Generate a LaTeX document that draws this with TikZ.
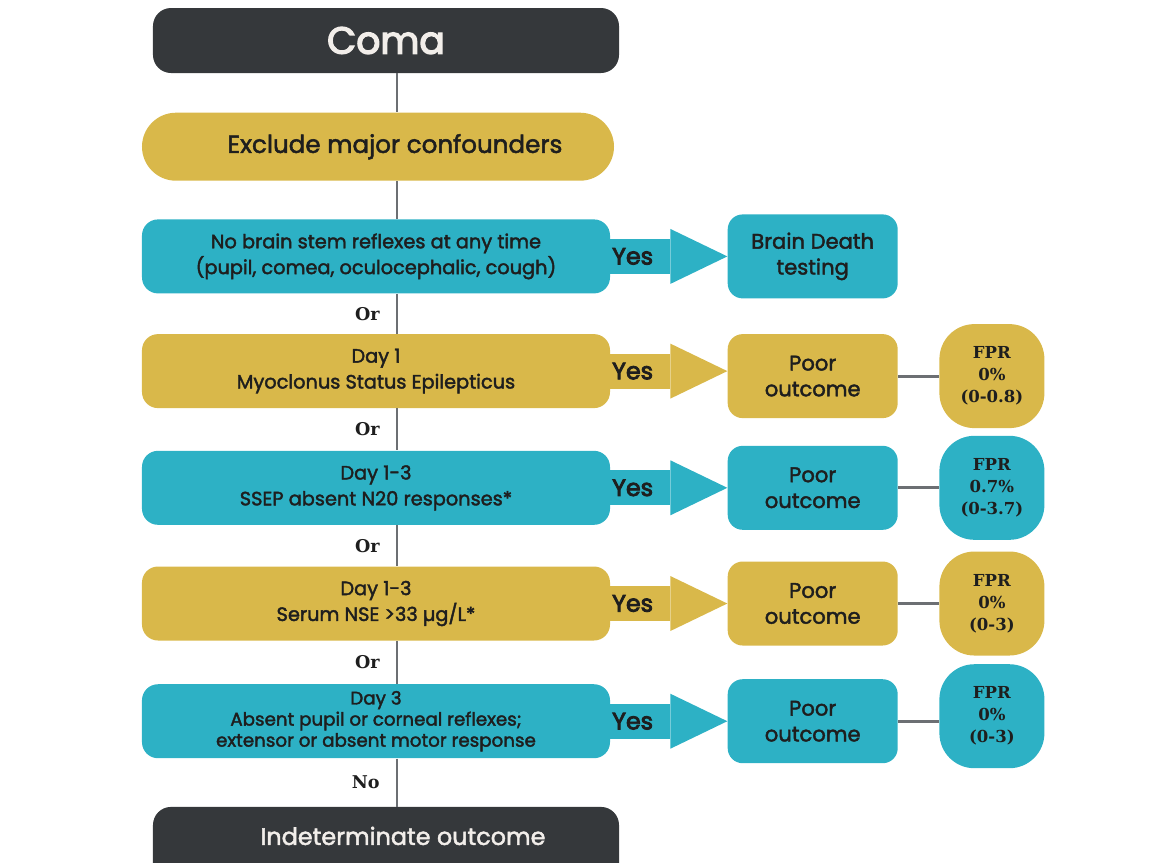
\documentclass[tikz,border=0pt]{standalone}
\usepackage{fontspec}
\setmainfont{Poppins}[FakeBold=2]
\newfontfamily\serifbold{DejaVu Serif}
\newfontfamily\headfont{Poppins}[FakeBold=3.5]
\usetikzlibrary{arrows.meta, positioning}

\definecolor{comadark}{HTML}{35383B}
\definecolor{tealbox}{HTML}{2DB1C5}
\definecolor{goldbox}{HTML}{D9B84A}
\definecolor{spinegray}{HTML}{6C6F73}
\definecolor{boxtext}{HTML}{1E1E1E}
\definecolor{lighttext}{HTML}{F2EEEA}

\begin{document}
\begin{tikzpicture}[
    node distance=0.8cm,
    endbox/.style={rectangle, rounded corners=0.36cm, fill=comadark, text=lighttext, minimum width=9.32cm, minimum height=1.3cm, align=center},
    pill/.style={rectangle, rounded corners=0.68cm, fill=goldbox, text=boxtext, minimum width=9.44cm, minimum height=1.36cm, align=center, font=\fontsize{14}{16}\selectfont},
    stepteal/.style={rectangle, rounded corners=0.32cm, fill=tealbox, text=boxtext, minimum width=9.36cm, minimum height=1.48cm, align=center, font=\fontsize{11}{14.7}\selectfont},
    stepgold/.style={stepteal, fill=goldbox},
    outcome/.style={rectangle, rounded corners=0.3cm, text=boxtext, minimum width=3.4cm, minimum height=1.68cm, align=center, font=\fontsize{12}{14.7}\selectfont},
    fpr/.style={rectangle, rounded corners=0.7cm, text=boxtext, minimum width=2.1cm, minimum height=2.08cm, align=center, font=\serifbold\bfseries\fontsize{9.4}{12.5}\selectfont},
    yesarrow/.style={line width=0.7cm, -{Triangle[length=1.14cm 0 0, width=1.1cm 0 0, line width=0pt]}},
    link/.style={draw=spinegray, line width=1.7pt},
    orlabel/.style={font=\serifbold\bfseries\fontsize{10}{12}\selectfont, text=boxtext, left, xshift=-0.2cm},
    yeslabel/.style={font=\headfont\fontsize{13.5}{14}\selectfont, text=boxtext, anchor=west, inner sep=1pt, outer sep=0pt},
]
\useasboundingbox (-7.72,-16.45) rectangle (15.6,0.81);

% Top: Coma and confounders
\node[endbox, font=\headfont\fontsize{21.5}{24}\selectfont] (coma) at (0,0) {Coma};
\node[pill, below=0.78cm of coma, xshift=-0.16cm] (excl) {\hspace*{0.68cm}Exclude major confounders};

% Column of criteria
\node[stepteal, below=0.76cm of excl, xshift=-0.04cm] (brainstem) {No brain stem reflexes at any time\\(pupil, comea, oculocephalic, cough)};
\node[stepgold, below=0.8cm of brainstem] (myoclonus) {Day 1\\Myoclonus Status Epilepticus};
\node[stepteal, below=0.84cm of myoclonus] (ssep) {Day 1-3\\SSEP absent N20 responses*};
\node[stepgold, below=0.82cm of ssep] (nse) {Day 1-3\\Serum NSE >33 µg/L*};
\node[stepteal, below=0.86cm of nse, font=\fontsize{10.4}{12}\selectfont] (exam) {Day 3\\Absent pupil or corneal reflexes;\\extensor or absent motor response};

% Bottom: runs off the page
\node[endbox, below=0.96cm of exam, xshift=0.2cm, font=\fontsize{13.6}{15}\selectfont, text height=0.56cm, text depth=0.6cm, inner ysep=0.2cm] (indet) {\hspace*{0.68cm}Indeterminate outcome};

% Outcomes
\node[outcome, fill=tealbox, right=2.34cm of brainstem] (death) {Brain Death\\testing};
\node[outcome, fill=goldbox, right=2.34cm of myoclonus, yshift=-0.1cm] (poor1) {Poor\\outcome};
\node[outcome, fill=tealbox, right=2.34cm of ssep] (poor2) {Poor\\outcome};
\node[outcome, fill=goldbox, right=2.34cm of nse] (poor3) {Poor\\outcome};
\node[outcome, fill=tealbox, right=2.34cm of exam] (poor4) {Poor\\outcome};

% False positive rates
\node[fpr, fill=goldbox, right=0.82cm of poor1] (fpr1) {FPR\\0\%\\(0-0.8)};
\node[fpr, fill=tealbox, right=0.82cm of poor2] (fpr2) {FPR\\0.7\%\\(0-3.7)};
\node[fpr, fill=goldbox, right=0.82cm of poor3] (fpr3) {FPR\\0\%\\(0-3)};
\node[fpr, fill=tealbox, right=0.82cm of poor4, yshift=0.1cm] (fpr4) {FPR\\0\%\\(0-3)};

% Spine
\coordinate (spine) at ([xshift=0.42cm]brainstem.center);
\draw[link] (coma.south -| spine) -- (excl.north -| spine);
\draw[link] (excl.south -| spine) -- (brainstem.north -| spine);
\draw[link] (brainstem.south -| spine) -- node[orlabel]{Or} (myoclonus.north -| spine);
\draw[link] (myoclonus.south -| spine) -- node[orlabel]{Or} (ssep.north -| spine);
\draw[link] (ssep.south -| spine) -- node[orlabel]{Or} (nse.north -| spine);
\draw[link] (nse.south -| spine) -- node[orlabel]{Or} (exam.north -| spine);
\draw[link] (exam.south -| spine) -- node[orlabel]{No} (indet.north -| spine);

% Yes arrows
\draw[yesarrow, draw=tealbox] (brainstem.east) -- node[yeslabel, pos=0]{Yes} (brainstem.east -| death.west);
\draw[yesarrow, draw=goldbox] (myoclonus.east) -- node[yeslabel, pos=0]{Yes} (myoclonus.east -| poor1.west);
\draw[yesarrow, draw=tealbox] (ssep.east) -- node[yeslabel, pos=0]{Yes} (ssep.east -| poor2.west);
\draw[yesarrow, draw=goldbox] (nse.east) -- node[yeslabel, pos=0]{Yes} (nse.east -| poor3.west);
\draw[yesarrow, draw=tealbox] (exam.east) -- node[yeslabel, pos=0]{Yes} (exam.east -| poor4.west);

% Outcome to FPR
\draw[link] (poor1) -- (poor1 -| fpr1.west);
\draw[link] (poor2) -- (fpr2);
\draw[link] (poor3) -- (fpr3);
\draw[link] (poor4) -- (poor4 -| fpr4.west);
\end{tikzpicture}
\end{document}
